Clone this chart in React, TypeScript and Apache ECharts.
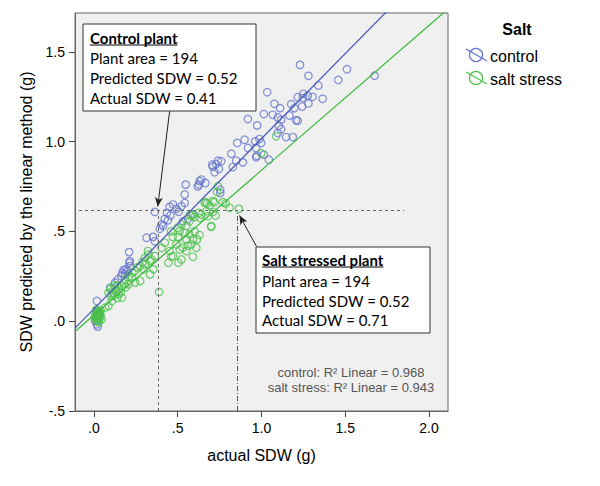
import React, { useEffect, useRef } from 'react';
import * as echarts from 'echarts';

// ---------- data ----------
const controlPts: [number, number][] = [
  [1.23, 1.428], [1.28, 1.367], [1.51, 1.404], [1.458, 1.344], [1.675, 1.368], [1.339, 1.313], [1.365, 1.239],
  [1.216, 1.248], [1.25, 1.267], [1.276, 1.256], [1.305, 1.25], [1.246, 1.243], [1.28, 1.213], [1.242, 1.196],
  [1.196, 1.187], [1.177, 1.209], [1.167, 1.146], [1.216, 1.117],
  [1.034, 1.276], [1.077, 1.211], [1.111, 1.187], [1.014, 1.154], [1.067, 1.15], [1.097, 1.135], [0.919, 1.126],
  [0.974, 1.091], [1.103, 1.089], [1.117, 1.07], [1.097, 1.048], [1.147, 1.026], [1.187, 1.026], [0.855, 0.993],
  [0.899, 1.011], [0.962, 1.002], [0.988, 1.015], [0.998, 0.993], [0.968, 0.965], [0.919, 0.965], [0.82, 0.933],
  [0.849, 0.894], [0.889, 0.885], [0.968, 0.913], [1.044, 0.9], [0.74, 0.894], [0.76, 0.891], [0.706, 0.872],
  [0.829, 0.859], [1.206, 1.119], [1.117, 1.122], [0.972, 0.922], [1.014, 0.928],
  [0.73, 0.875], [0.71, 0.86], [0.746, 0.848], [0.72, 0.83], [0.548, 0.761], [0.641, 0.789], [0.665, 0.77],
  [0.627, 0.761], [0.754, 0.733], [0.754, 0.715], [0.542, 0.706], [0.542, 0.659], [0.522, 0.641], [0.591, 0.594],
  [0.561, 0.57], [0.532, 0.557],
  [0.363, 0.609], [0.472, 0.65], [0.452, 0.637], [0.492, 0.626], [0.436, 0.604], [0.456, 0.589], [0.423, 0.57],
  [0.442, 0.563], [0.403, 0.539], [0.393, 0.515], [0.413, 0.53], [0.314, 0.465], [0.353, 0.47], [0.363, 0.446],
  [0.21, 0.385], [0.214, 0.335],
  [0.212, 0.326], [0.216, 0.307], [0.177, 0.285], [0.186, 0.261], [0.163, 0.252], [0.143, 0.233], [0.127, 0.215],
  [0.097, 0.187], [0.018, 0.113], [0.018, -0.017], [0.008, 0.002], [0.02, 0.03], [0.025, 0.05], [0.03, 0.04],
  [0.015, 0.06], [0.022, -0.03], [0.17, 0.27], [0.19, 0.29], [0.2, 0.28], [0.63, 0.78], [0.62, 0.75], [0.505, 0.61],
];

const saltPts: [number, number][] = [
  [1.087, 1.03], [0.998, 0.935], [0.74, 0.752], [0.735, 0.72], [0.667, 0.663], [0.72, 0.663], [0.77, 0.663],
  [0.69, 0.644], [0.81, 0.632], [0.865, 0.626], [0.671, 0.613], [0.71, 0.608], [0.641, 0.594], [0.726, 0.589],
  [0.68, 0.585], [0.7, 0.526], [0.631, 0.576], [0.581, 0.585], [0.552, 0.53],
  [0.675, 0.656], [0.786, 0.656], [0.575, 0.594], [0.601, 0.581], [0.627, 0.604], [0.571, 0.557], [0.522, 0.539],
  [0.512, 0.502], [0.542, 0.493], [0.571, 0.483], [0.502, 0.47], [0.552, 0.456], [0.615, 0.456], [0.581, 0.428],
  [0.492, 0.428], [0.423, 0.437], [0.512, 0.4], [0.552, 0.391], [0.452, 0.391], [0.403, 0.409], [0.323, 0.391],
  [0.363, 0.363], [0.462, 0.359], [0.522, 0.344], [0.591, 0.359], [0.304, 0.354], [0.343, 0.344],
  [0.389, 0.163], [0.444, 0.326], [0.504, 0.326], [0.335, 0.335], [0.305, 0.317], [0.276, 0.307], [0.296, 0.289],
  [0.246, 0.28], [0.226, 0.243], [0.276, 0.224], [0.246, 0.215], [0.206, 0.206], [0.167, 0.196], [0.127, 0.187],
  [0.097, 0.178], [0.087, 0.159], [0.117, 0.141], [0.147, 0.15], [0.167, 0.131], [0.107, 0.113], [0.087, 0.085],
  [0.067, 0.076], [0.186, 0.233], [0.325, 0.372], [0.355, 0.289], [0.335, 0.261],
  [0.13, 0.17], [0.15, 0.18], [0.14, 0.2], [0.11, 0.16], [0.12, 0.2], [0.16, 0.16], [0.18, 0.21], [0.21, 0.25],
  [0.23, 0.27], [0.26, 0.3], [0.29, 0.33], [0.19, 0.19], [0.1, 0.14], [0.14, 0.13],
  [0.46, 0.5], [0.5, 0.52], [0.47, 0.47], [0.6, 0.5], [0.63, 0.48], [0.56, 0.42], [0.53, 0.41], [0.661, 0.659],
  [0.71, 0.669], [0.7, 0.53], [0.591, 0.456], [0.611, 0.409], [0.472, 0.363],
  [0.01, 0.01], [0.015, 0.02], [0.02, 0.0], [0.025, 0.03], [0.03, 0.015], [0.02, 0.045], [0.035, 0.04],
  [0.01, 0.035], [0.04, 0.025], [0.028, 0.055], [0.015, 0.065], [0.04, 0.06], [0.005, 0.025], [0.03, -0.005],
  [0.045, 0.01], [0.02, 0.02], [0.025, 0.01], [0.035, 0.05], [0.012, 0.05], [0.038, 0.035],
];

// linear fits
const fitControl = { intercept: 0.069, slope: 0.948 };
const fitSalt = { intercept: 0.034, slope: 0.807 };

// axis ranges & ticks
const xRange = [-0.113, 2.113];
const yRange = [-0.5, 1.717];
const xTicks = [0, 0.5, 1, 1.5, 2];
const xTickLabels = ['.0', '.5', '1.0', '1.5', '2.0'];
const yTicks = [-0.5, 0, 0.5, 1, 1.5];
const yTickLabels = ['-.5', '.0', '.5', '1.0', '1.5'];

// guide values
const guideLevel = 0.617;
const guideStartX = -0.089;
const guideEndX = 1.851;
const controlActual = 0.381;
const saltActual = 0.857;
const controlArrow = [[0.452, 1.172], [0.381, 0.639]];
const saltArrow = [[0.97, 0.417], [0.869, 0.589]];

// texts
const legendTitle = 'Salt';
const seriesNames = ['control', 'salt stress'];
const r2Lines = ['control: R² Linear = 0.968', 'salt stress: R² Linear = 0.943'];
const controlBoxLines = ['Control plant', 'Plant area = 194', 'Predicted SDW = 0.52', 'Actual SDW = 0.41'];
const saltBoxLines = ['Salt stressed plant', 'Plant area = 194', 'Predicted SDW = 0.52', 'Actual SDW = 0.71'];
const xName = 'actual SDW (g)';
const yName = 'SDW predicted by the linear method (g)';

const CTRL_MARK = '#6473cc';
const CTRL_LINE = '#4f62bb';
const SALT_MARK = '#4cc24c';
const SALT_LINE = '#3fbb3f';
const ARIAL = "'Liberation Sans', Arial, sans-serif";
const BOXFONT = "Lato, 'Open Sans', sans-serif";

function fitLine(f: { intercept: number; slope: number }) {
  return [xRange[0], xRange[1]].map((x) => [x, f.intercept + f.slope * x]);
}

function measure(text: string, font: string) {
  const ctx = document.createElement('canvas').getContext('2d')!;
  ctx.font = font;
  return ctx.measureText(text).width;
}

function boxGraphic(x: number, y: number, w: number, h: number, lines: string[], tx: number, ys: number[]) {
  const els: any[] = [
    { type: 'rect', shape: { x, y, width: w, height: h }, style: { fill: '#fff', stroke: '#333', lineWidth: 1 }, z: 100 },
  ];
  lines.forEach((t, i) => {
    els.push({
      type: 'text', x: tx, y: ys[i], z: 101,
      style: { text: t, fontSize: 15, fontFamily: BOXFONT, fontWeight: i === 0 ? 'bold' : 'normal', fill: '#000', align: 'left', verticalAlign: 'middle' },
    });
  });
  const uw = measure(lines[0], `bold 15px ${BOXFONT}`);
  els.push({ type: 'line', z: 101, shape: { x1: tx, y1: ys[0] + 7, x2: tx + uw, y2: ys[0] + 7 }, style: { stroke: '#000', lineWidth: 1 } });
  return els;
}

export default function App() {
  const ref = useRef<HTMLDivElement>(null);
  useEffect(() => {
    document.body.style.margin = '0';
    const chart = echarts.init(ref.current!, null, { renderer: 'svg' });
    const scatterStyle = (c: string) => ({ color: 'rgba(0,0,0,0)', borderColor: c, borderWidth: 1.2 });
    const legendItem = (y: number, c: string, label: string) => [
      { type: 'circle', shape: { cx: 476, cy: y, r: 6.5 }, style: { fill: 'none', stroke: c, lineWidth: 1.3 } },
      { type: 'line', shape: { x1: 466, y1: y - 6, x2: 487, y2: y + 6 }, style: { stroke: c, lineWidth: 1.3 } },
      { type: 'text', x: 490, y: y + 1, style: { text: label, fontSize: 16, fontFamily: ARIAL, fill: '#000', verticalAlign: 'middle' } },
    ];
    const axisCommon = {
      type: 'value',
      nameLocation: 'middle',
      nameTextStyle: { fontSize: 16, fontFamily: ARIAL, color: '#000' },
      axisLine: { show: true, onZero: false, lineStyle: { color: '#666' } },
      splitLine: { show: false },
    };
    const option: any = {
      animation: false,
      grid: { left: 75, right: 152, top: 13, bottom: 75, show: true, backgroundColor: '#f0f0f0', borderColor: '#666', borderWidth: 1 },
      xAxis: {
        ...axisCommon,
        min: xRange[0], max: xRange[1],
        name: xName, nameGap: 36,
        axisTick: { show: true, customValues: xTicks, length: 6, lineStyle: { color: '#444' } },
        axisLabel: {
          customValues: xTicks, margin: 10, fontSize: 14, fontFamily: ARIAL, color: '#000',
          formatter: (v: number) => xTickLabels[xTicks.findIndex((t) => Math.abs(t - v) < 1e-6)] ?? '',
        },
      },
      yAxis: {
        ...axisCommon,
        min: yRange[0], max: yRange[1],
        name: yName, nameGap: 39, nameRotate: 90,
        axisTick: { show: true, customValues: yTicks, length: 6, lineStyle: { color: '#444' } },
        axisLabel: {
          customValues: yTicks, margin: 10, fontSize: 14, fontFamily: ARIAL, color: '#000',
          formatter: (v: number) => yTickLabels[yTicks.findIndex((t) => Math.abs(t - v) < 1e-6)] ?? '',
        },
      },
      series: [
        {
          name: seriesNames[0], type: 'scatter', data: controlPts, symbol: 'circle', symbolSize: 7.5,
          itemStyle: scatterStyle(CTRL_MARK), z: 2,
          markLine: {
            silent: true, symbol: ['none', 'none'], label: { show: false }, animation: false,
            data: [
              [{ coord: [guideStartX, guideLevel], lineStyle: { type: [3, 3], color: '#666', width: 1 } }, { coord: [guideEndX, guideLevel] }],
              [{ coord: [controlActual, yRange[0]], lineStyle: { type: [3, 3], color: '#666', width: 1 } }, { coord: [controlActual, guideLevel] }],
              [{ coord: [saltActual, yRange[0]], lineStyle: { type: [5, 2, 1, 2], color: '#555', width: 1 } }, { coord: [saltActual, guideLevel] }],
            ],
          },
        },
        {
          name: seriesNames[1], type: 'scatter', data: saltPts, symbol: 'circle', symbolSize: 7.5,
          itemStyle: scatterStyle(SALT_MARK), z: 3,
          markLine: {
            silent: true, symbol: ['none', 'arrow'], symbolSize: [6, 9], label: { show: false }, animation: false,
            lineStyle: { type: 'solid', color: '#222', width: 1 },
            data: [
              [{ coord: controlArrow[0] }, { coord: controlArrow[1] }],
              [{ coord: saltArrow[0] }, { coord: saltArrow[1] }],
            ],
          },
        },
        { type: 'line', data: fitLine(fitControl), showSymbol: false, clip: true, lineStyle: { color: CTRL_LINE, width: 1.3 }, z: 4, silent: true },
        { type: 'line', data: fitLine(fitSalt), showSymbol: false, clip: true, lineStyle: { color: SALT_LINE, width: 1.3 }, z: 4, silent: true },
      ],
      graphic: [
        ...boxGraphic(83, 24, 173, 87, controlBoxLines, 90, [38, 58, 78, 98]),
        ...boxGraphic(256, 247, 174, 86, saltBoxLines, 262, [260, 281, 301, 320]),
        { type: 'text', x: 351, y: 372, style: { text: r2Lines[0], fontSize: 13, fontFamily: ARIAL, fill: '#555', align: 'center', verticalAlign: 'middle' } },
        { type: 'text', x: 351, y: 387, style: { text: r2Lines[1], fontSize: 13, fontFamily: ARIAL, fill: '#555', align: 'center', verticalAlign: 'middle' } },
        { type: 'text', x: 517, y: 29, style: { text: legendTitle, fontSize: 16, fontWeight: 'bold', fontFamily: ARIAL, fill: '#000', align: 'center', verticalAlign: 'middle' } },
        ...legendItem(55, CTRL_MARK, seriesNames[0]),
        ...legendItem(78, SALT_MARK, seriesNames[1]),
      ],
    };
    chart.setOption(option);
    return () => chart.dispose();
  }, []);
  return <div ref={ref} style={{ position: 'absolute', left: 0, top: 0, width: 600, height: 486 }} />;
}
